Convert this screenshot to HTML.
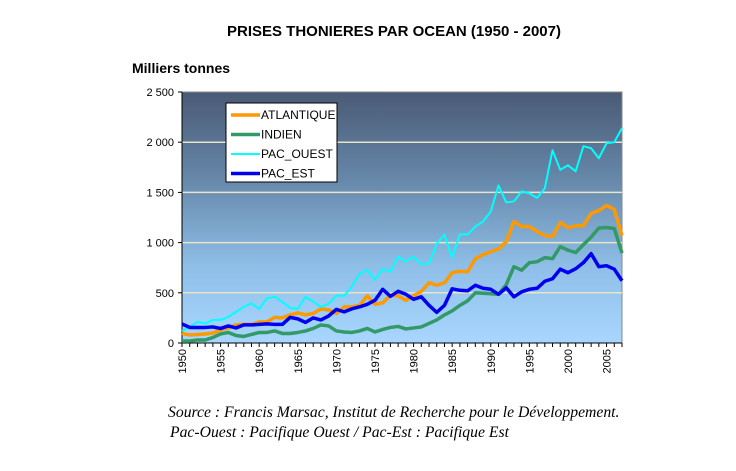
<!DOCTYPE html>
<html><head><meta charset="utf-8"><style>
body{margin:0;background:#fff;width:736px;height:466px;overflow:hidden;font-family:"Liberation Sans",sans-serif}
</style></head><body>
<svg id="c" width="736" height="466">
<defs><linearGradient id="bg" x1="0" y1="0" x2="0" y2="1">
<stop offset="0" stop-color="#4a5a75"/><stop offset="0.35" stop-color="#6688aa"/><stop offset="0.7" stop-color="#8fbfe8"/><stop offset="1" stop-color="#a8d6ff"/></linearGradient></defs>
<text x="394" y="36" text-anchor="middle" font-weight="bold" font-size="15">PRISES THONIERES PAR OCEAN (1950 - 2007)</text>
<text x="132" y="73" font-weight="bold" font-size="14">Milliers tonnes</text>
<text x="168" y="417" font-style="italic" font-size="15.7" font-family="Liberation Serif,serif">Source : Francis Marsac, Institut de Recherche pour le Développement.</text>
<text x="170" y="437" font-style="italic" font-size="15.7" font-family="Liberation Serif,serif">Pac-Ouest : Pacifique Ouest / Pac-Est : Pacifique Est</text>
</svg>
<script>
const years=[];for(let y=1950;y<=2007;y++)years.push(y);
const yTicks=[0,500,1000,1500,2000,2500];
const yTickLabels=["0","500","1 000","1 500","2 000","2 500"];
const atlantique=[95,80,85,90,100,130,150,180,185,185,210,210,255,250,280,300,280,295,340,330,295,360,360,375,470,385,400,475,470,425,470,515,600,575,600,700,715,710,840,880,910,935,1010,1210,1160,1160,1110,1070,1060,1200,1150,1165,1170,1290,1320,1370,1330,1070];
const indien=[20,20,30,30,55,90,105,75,65,85,105,105,120,95,95,105,120,145,180,170,120,110,105,120,145,110,135,155,165,140,150,160,195,230,280,320,375,420,500,495,490,485,580,760,725,800,810,850,840,960,925,900,980,1055,1145,1150,1140,895];
const pacOuest=[120,160,210,195,230,230,260,310,360,395,340,445,460,410,350,340,460,410,360,390,470,470,560,690,725,630,740,710,860,810,860,785,790,990,1080,850,1085,1080,1160,1210,1310,1570,1400,1410,1510,1490,1445,1540,1920,1725,1770,1710,1960,1940,1840,1990,2000,2140];
const pacEst=[190,155,155,155,160,145,170,150,180,180,185,190,185,185,255,240,205,250,230,270,335,310,340,360,385,425,535,465,515,485,435,460,375,305,375,540,525,520,575,545,535,485,550,460,510,535,545,615,640,735,700,740,800,890,760,770,735,620];
const series=[["ATLANTIQUE",atlantique,"#ff9900",3.5,"atlantique"],["INDIEN",indien,"#339966",3.5,"indien"],["PAC_OUEST",pacOuest,"#00ffff",2,"pac-ouest"],["PAC_EST",pacEst,"#0000ee",3.5,"pac-est"]];
const NS="http://www.w3.org/2000/svg",svg=document.getElementById('c');
const L=182,R=622,T=92,B=343,YMAX=2500;
const xs=y=>L+(y-1950)*(R-L)/57, ys=v=>B-v*(B-T)/YMAX;
function mk(t,a){const e=document.createElementNS(NS,t);for(const k in a)e.setAttribute(k,a[k]);svg.appendChild(e);return e;}
let e=mk('rect',{x:L,y:T,width:R-L,height:B-T,fill:'url(#bg)',stroke:'#888'});


yTicks.forEach((v,i)=>{
 if(v>0&&v<YMAX){let g=mk('line',{x1:L,x2:R,y1:ys(v),y2:ys(v),stroke:'#e8e4c8','stroke-width':1.5});
 
 }
 let t=mk('line',{x1:L-4,x2:L,y1:ys(v),y2:ys(v),stroke:'#000'});
 
 
 let l=mk('text',{x:L-8,y:ys(v)+4,'text-anchor':'end','font-size':11});l.textContent=yTickLabels[i];
 
 
});
let ax=mk('line',{x1:L,x2:R,y1:B,y2:B,stroke:'#000'});


let ay=mk('line',{x1:L,x2:L,y1:T,y2:B,stroke:'#000'});


years.forEach(y=>{
 let t=mk('line',{x1:xs(y),x2:xs(y),y1:B,y2:B+4,stroke:'#000'});
 
 
 if(y%5==0){let l=mk('text',{x:0,y:0,'text-anchor':'end','font-size':11,transform:`translate(${xs(y)+4},${B+6}) rotate(-90)`});l.textContent=y;
 
 }
});
series.forEach(s=>{
 let p=mk('polyline',{points:s[1].map((v,i)=>xs(years[i])+','+ys(v)).join(' '),fill:'none',stroke:s[2],'stroke-width':s[3],'stroke-linejoin':'round'});
 
 
});
let lg=mk('rect',{x:226,y:103,width:111,height:79,fill:'#fff',stroke:'#000'});


series.forEach((s,i)=>{
 const y=115+i*19.5;
 let l=mk('line',{x1:231,x2:260,y1:y,y2:y,stroke:s[2],'stroke-width':s[3]});
 
 
 let t=mk('text',{x:261,y:y+4,'font-size':12});t.textContent=s[0];
 
 
});
</script>
</body></html>
